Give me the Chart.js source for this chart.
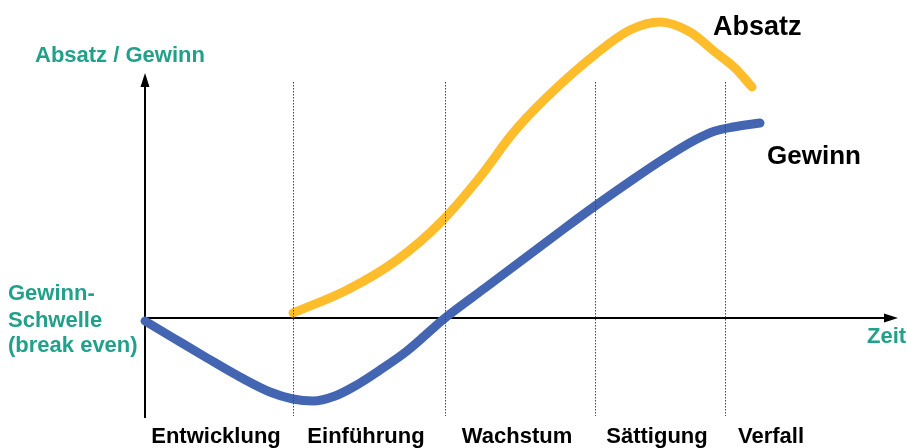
<!DOCTYPE html>
<html>
<head>
<meta charset="utf-8">
<script src="https://cdn.jsdelivr.net/npm/chart.js@4/dist/chart.umd.min.js"></script>
<style>
  html, body { margin: 0; padding: 0; background: #ffffff; }
  canvas { display: block; }
</style>
</head>
<body>
<canvas id="plc" width="907" height="448"></canvas>
<script>
// Product life cycle: sales (Absatz) and profit (Gewinn) over time (Zeit)
const phaseNames = ['Entwicklung', 'Einführung', 'Wachstum', 'Sättigung', 'Verfall'];
const phaseBounds = [0, 148, 300, 450, 580, 678];

const gewinnT = [0, 30, 62, 95, 125, 148, 168, 190, 210, 235, 262, 300, 340, 380, 420, 450, 490, 520, 550, 570, 588, 615];
const gewinnV = [-3, -21, -40, -59, -74, -81, -83, -78, -68, -52, -33, 0, 30, 60, 90, 112, 140, 160, 178, 187, 191, 195];

const absatzT = [148, 202, 252, 295, 335, 368, 402, 452, 485, 515, 545, 570, 590, 607];
const absatzV = [5, 28, 58, 95, 141, 185, 221, 265, 288, 296, 286, 266, 250, 231];

const TEAL = '#22A08A';
const FONT = '"Liberation Sans", Arial, sans-serif';

const phaseMids = phaseNames.map((_, i) => (phaseBounds[i] + phaseBounds[i + 1]) / 2);
const toPts = (xs, ys) => xs.map((x, i) => ({ x, y: ys[i] }));

// axes with arrows, phase dividers and free text
const decor = {
  id: 'decor',
  beforeDatasetsDraw(chart) {
    const { ctx, scales: { x, y } } = chart;
    const x0 = x.getPixelForValue(0);
    const y0 = y.getPixelForValue(0);
    const yBottom = y.getPixelForValue(-100);
    const yTip = 73, xTip = 898;
    ctx.save();
    ctx.strokeStyle = '#000';
    ctx.fillStyle = '#000';
    ctx.lineWidth = 2;
    // vertical axis
    ctx.beginPath();
    ctx.moveTo(x0, yBottom);
    ctx.lineTo(x0, yTip + 10);
    ctx.stroke();
    ctx.beginPath();
    ctx.moveTo(x0, yTip);
    ctx.lineTo(x0 - 4.5, yTip + 14);
    ctx.lineTo(x0 + 4.5, yTip + 14);
    ctx.closePath();
    ctx.fill();
    // horizontal axis at break-even
    ctx.beginPath();
    ctx.moveTo(x0, y0);
    ctx.lineTo(xTip - 10, y0);
    ctx.stroke();
    ctx.beginPath();
    ctx.moveTo(xTip, y0);
    ctx.lineTo(xTip - 14, y0 - 4.5);
    ctx.lineTo(xTip - 14, y0 + 4.5);
    ctx.closePath();
    ctx.fill();
    ctx.restore();
  },
  afterDatasetsDraw(chart) {
    const { ctx, scales: { x } } = chart;
    ctx.save();
    // dotted phase dividers
    ctx.strokeStyle = '#444';
    ctx.lineWidth = 1;
    ctx.setLineDash([1.5, 1.5]);
    phaseBounds.slice(1, -1).forEach(b => {
      const px = Math.round(x.getPixelForValue(b)) + 0.5;
      ctx.beginPath();
      ctx.moveTo(px, 82);
      ctx.lineTo(px, 416);
      ctx.stroke();
    });
    ctx.setLineDash([]);
    // labels
    ctx.textBaseline = 'alphabetic';
    ctx.textAlign = 'left';
    ctx.fillStyle = TEAL;
    ctx.font = 'bold 22px ' + FONT;
    ctx.fillText('Absatz / Gewinn', 35, 62);
    ctx.fillText('Zeit', 867, 343);
    ctx.fillText('Gewinn-', 8, 300);
    ctx.fillText('Schwelle', 8, 327);
    ctx.fillText('(break even)', 8, 352);
    ctx.fillStyle = '#000';
    ctx.font = 'bold 27px ' + FONT;
    ctx.fillText('Absatz', 713, 35);
    ctx.font = 'bold 26px ' + FONT;
    ctx.fillText('Gewinn', 767, 164);
    ctx.restore();
  }
};

new Chart(document.getElementById('plc'), {
  type: 'line',
  data: {
    datasets: [
      {
        label: 'Absatz',
        data: toPts(absatzT, absatzV),
        borderColor: '#FFBD2B',
        borderWidth: 9,
        borderCapStyle: 'round',
        borderJoinStyle: 'round',
        cubicInterpolationMode: 'monotone',
        pointRadius: 0,
        fill: false,
        clip: false
      },
      {
        label: 'Gewinn',
        data: toPts(gewinnT, gewinnV),
        borderColor: '#4466B2',
        borderWidth: 9,
        borderCapStyle: 'round',
        borderJoinStyle: 'round',
        cubicInterpolationMode: 'monotone',
        pointRadius: 0,
        fill: false,
        clip: false
      }
    ]
  },
  options: {
    responsive: false,
    animation: false,
    devicePixelRatio: 1,
    layout: { padding: { left: 145, right: 12, top: 0, bottom: 0 } },
    plugins: { legend: { display: false }, tooltip: { enabled: false } },
    scales: {
      x: {
        type: 'linear',
        min: 0,
        max: 750,
        grid: { display: false, drawTicks: false },
        border: { display: false },
        afterBuildTicks: scale => { scale.ticks = phaseMids.map(v => ({ value: v })); },
        ticks: {
          autoSkip: false,
          maxRotation: 0,
          padding: 0,
          labelOffset: -3,
          color: '#000',
          font: { family: FONT, size: 22, weight: 'bold', lineHeight: 1 },
          callback: (v, i) => phaseNames[i]
        }
      },
      y: { display: false, min: -108, max: 318 }
    }
  },
  plugins: [decor]
});
</script>
</body>
</html>
